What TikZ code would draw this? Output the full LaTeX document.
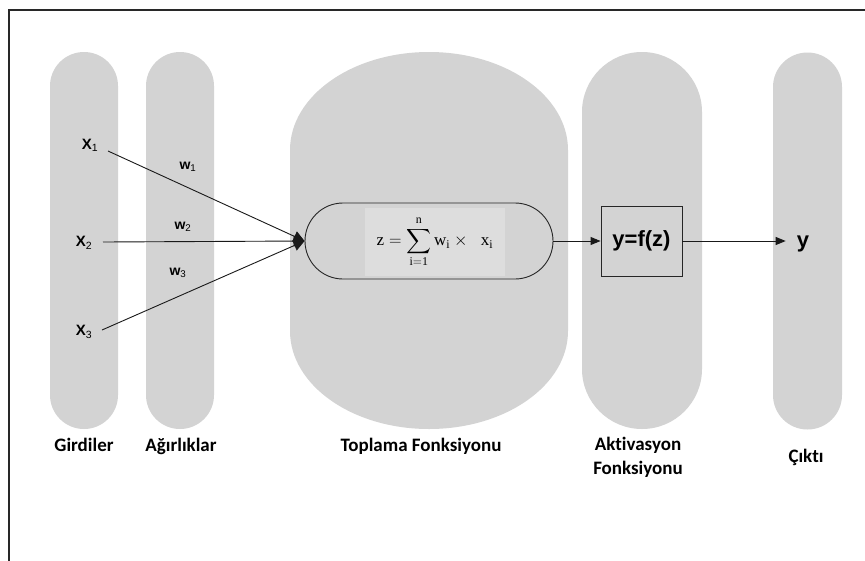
\documentclass[tikz,border=0pt]{standalone}
\usepackage{amsmath}
\usepackage{fontspec}
\setmainfont{Liberation Serif}
\newfontfamily\lblfont{Carlito}[Ligatures=NoCommon]
\newfontfamily\arialfont{Liberation Sans}
\usetikzlibrary{arrows.meta}
\definecolor{colgray}{RGB}{211,211,211}
\definecolor{eqgray}{RGB}{221,221,221}
\definecolor{framegray}{RGB}{40,40,40}
\tikzset{
  colfill/.style={fill=colgray},
  xlab/.style={font=\arialfont\bfseries\fontsize{15}{17}\selectfont, inner sep=0pt},
  wlab/.style={font=\arialfont\bfseries\fontsize{14}{16}\selectfont, inner sep=0pt},
  lbl/.style={font=\lblfont\bfseries\fontsize{19}{23}\selectfont, inner sep=0pt, align=center},
  pill/.style={draw=black!85, line width=0.9pt, fill=colgray, minimum width=248pt, minimum height=76pt, rounded corners=38pt},
  eqbox/.style={fill=eqgray, minimum width=140pt, minimum height=68pt, inner sep=0pt},
  actbox/.style={draw=black!85, line width=0.9pt, fill=colgray, minimum width=81pt, minimum height=70pt,
    font=\arialfont\bfseries\fontsize{22}{24}\selectfont, inner sep=0pt},
  outlab/.style={font=\arialfont\bfseries\fontsize{22}{24}\selectfont, inner sep=0pt},
  inarrow/.style={draw=black!90, line width=0.9pt, -{Triangle[length=11pt,width=11pt]}},
  arr/.style={draw=black!90, line width=0.9pt, -{Triangle[length=10pt,width=8pt]}}
}
\begin{document}
\begin{tikzpicture}[x=1pt,y=-1pt]
\useasboundingbox (0,0) rectangle (865,560);
\clip (0,0) rectangle (865,560);
\fill[white] (0,0) rectangle (865,560);

% outer frame (only its top and left edges fall inside the page)
\draw[draw=framegray, line width=2pt] (9,600) -- (9,10) -- (900,10);

% grey columns behind each stage
\fill[colfill] (50,86) rectangle (118,395) (84,86) circle[radius=34pt] (84,395) circle[radius=34pt];
\fill[colfill] (146,86) rectangle (214,395) (180,86) circle[radius=34pt] (180,395) circle[radius=34pt];
\fill[colfill] (290,150) rectangle (568,331)
  (429,150) ellipse[x radius=139pt, y radius=98pt]
  (429,331) ellipse[x radius=139pt, y radius=98pt];
\fill[colfill] (582,112) rectangle (702,369) (642,112) circle[radius=60pt] (642,369) circle[radius=60pt];
\fill[colfill] (773,87) rectangle (842,395) (807.5,87) circle[radius=34.5pt] (807.5,395) circle[radius=34.5pt];

% inputs and weights
\node[xlab] (x1) at (90,145) {X\textsubscript{\mdseries 1}};
\node[xlab] (x2) at (84,243) {X\textsubscript{\mdseries 2}};
\node[xlab] (x3) at (84,332) {X\textsubscript{\mdseries 3}};
\coordinate (x1o) at (108,151);
\coordinate (x2o) at (103,242);
\coordinate (x3o) at (102,330);
\node[wlab] (w1) at (188,167) {w\textsubscript{\mdseries 1}};
\node[wlab] (w2) at (183,227) {w\textsubscript{\mdseries 2}};
\node[wlab] (w3) at (178,273) {w\textsubscript{\mdseries 3}};

% summation node
\node[pill] (sum) at (429,241) {};
\node[eqbox] (eq) at (435,242) {\fontsize{17}{19}\selectfont
  $\displaystyle \mathrm{z} = \sum_{\mathrm{i=1}}^{\mathrm{n}} \mathrm{w}_{\mathrm{i}} \times\;\; \mathrm{x}_{\mathrm{i}}$};

\draw[inarrow] (x1o) -- (sum.west);
\draw[inarrow] (x2o) -- (sum.west);
\draw[inarrow] (x3o) -- (sum.west);

% activation and output
\node[actbox] (act) at (641.5,241) {y=f(z)};
\node[outlab, anchor=base] (out) at (803,247) {y};
\draw[arr] (sum.east) -- (act.west);
\draw[arr] (act.east) -- ([xshift=-11pt]out.west |- act.east);

% stage captions
\node[lbl, anchor=base] (lg) at (84,451) {Girdiler};
\node[lbl, anchor=base] (la) at (181,451) {Ağırlıklar};
\node[lbl, anchor=base] (lt) at (421,451) {Toplama Fonksiyonu};
\node[lbl, anchor=base] (lk) at (638,450) {Aktivasyon};
\node[lbl, anchor=base] (lf) at (638,474) {Fonksiyonu};
\node[lbl, anchor=base] (lc) at (806,462) {Çıktı};
\end{tikzpicture}
\end{document}
